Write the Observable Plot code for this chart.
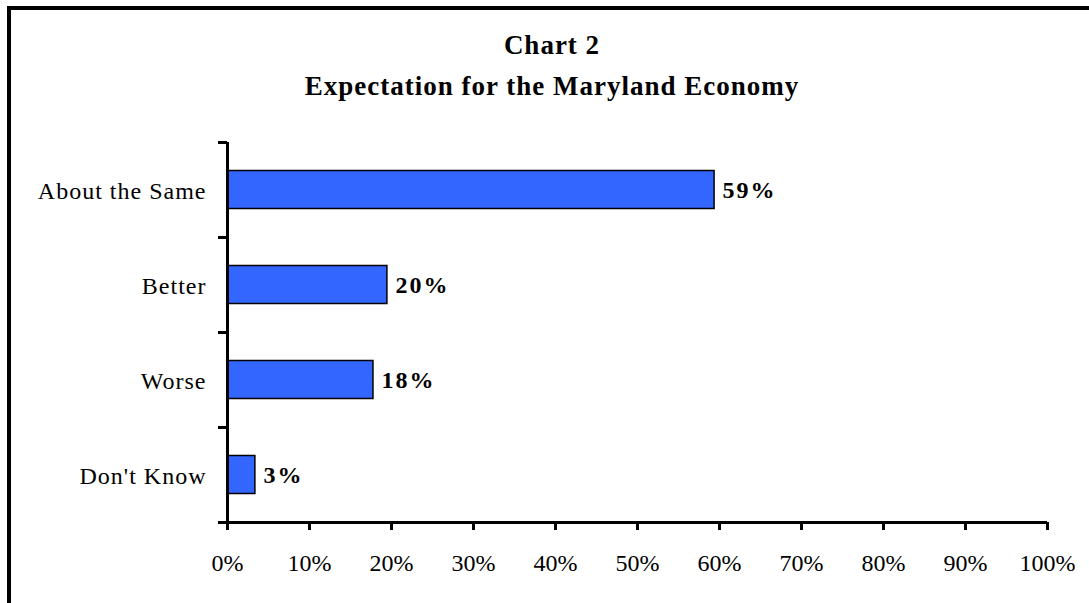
<!DOCTYPE html>
<html>
<head>
<meta charset="utf-8">
<script src="https://cdn.jsdelivr.net/npm/d3@7"></script>
<script src="https://cdn.jsdelivr.net/npm/@observablehq/plot@0.6"></script>
<style>
  html, body { margin: 0; padding: 0; background: #fff; overflow: hidden; }
  #wrap { position: relative; width: 1089px; height: 603px; overflow: hidden; background: #fff; }
  #border { position: absolute; left: 7px; top: 6px; width: 1110px; height: 630px; border: 4px solid #000; pointer-events: none; }
  #title { position: absolute; left: 0; width: 1104px; top: 25px; text-align: center;
           font-family: "Liberation Serif", "Times New Roman", serif; font-weight: bold; font-size: 27px; line-height: 41px; letter-spacing: 1px; color: #000; }
  svg { display: block; }
</style>
</head>
<body>
<div id="wrap">
  <div id="chart"></div>
  <div id="title">Chart 2<br>Expectation for the Maryland Economy</div>
  <div id="border"></div>
</div>
<script>
const categories = ["About the Same", "Better", "Worse", "Don't Know"];
const values = [59.4, 19.5, 17.8, 3.4];
const xTicks = [0, 10, 20, 30, 40, 50, 60, 70, 80, 90, 100];

const data = categories.map((c, i) => ({category: c, value: values[i]}));

const chart = Plot.plot({
  width: 1089,
  height: 603,
  marginLeft: 227,
  marginRight: 42,
  marginTop: 142,
  marginBottom: 81,
  style: {fontFamily: "'Liberation Serif', 'Times New Roman', serif", fontSize: "24px", color: "#000", background: "transparent"},
  x: {domain: [0, 100], label: null},
  y: {domain: categories, padding: 0, label: null},
  marks: [
    Plot.barX(data, {x: "value", y: "category", fill: "#3366FF", stroke: "#000", strokeWidth: 1.5, insetTop: 28.5, insetBottom: 28.5}),
    Plot.text(data, {x: "value", y: "category", text: d => Math.round(d.value) + "%", textAnchor: "start", dx: 8, dy: 0, fontWeight: "bold", fontSize: 24}),
    Plot.axisX({ticks: xTicks, tickFormat: d => d + "%", tickSize: 8, tickPadding: 23, strokeWidth: 3, fontSize: 24, label: null}),
    Plot.axisY({tickSize: 0, tickPadding: 21, fontSize: 24, dy: 1, label: null}),
    Plot.ruleY(categories, {y: d => d, dy: -47.5, x1: -1.1, x2: 0, strokeWidth: 3}),
    Plot.ruleY([categories[categories.length - 1]], {y: d => d, dy: 47.5, x1: -1.1, x2: 100, strokeWidth: 3}),
    Plot.ruleX([0], {strokeWidth: 3})
  ]
});
d3.select(chart).selectAll("[aria-label='y-axis tick label'] text").style("letter-spacing", "1px");
d3.select(chart).selectAll("[aria-label='text'] text").style("letter-spacing", "2px");
document.getElementById("chart").appendChild(chart);
</script>
</body>
</html>
